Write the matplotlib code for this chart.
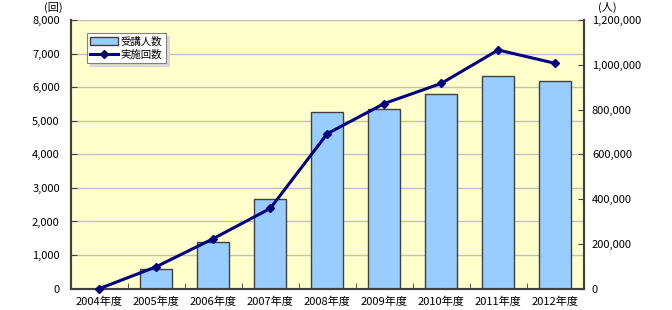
import matplotlib
matplotlib.use("Agg")
import matplotlib.pyplot as plt
from matplotlib.ticker import FuncFormatter, MultipleLocator
import numpy as np

plt.rcParams['font.family'] = ['Noto Sans CJK JP', 'DejaVu Sans']

# data
years = ['2004年度', '2005年度', '2006年度', '2007年度', '2008年度',
         '2009年度', '2010年度', '2011年度', '2012年度']
participants = [0, 89000, 209000, 399000, 791000, 801000, 870000, 951000, 930000]  # 受講人数 (right axis)
sessions = [0, 653, 1490, 2390, 4617, 5515, 6114, 7111, 6713]  # 実施回数 (left axis)

bar_color = '#99CCFF'
line_color = '#000080'
bg_color = '#FFFFCC'
grid_color = '#C0C0C0'
axis_color = '#404040'

fig = plt.figure(figsize=(6.72, 3.10), dpi=100)
ax = fig.add_axes([0.1055, 0.069, 0.763, 0.866])
ax2 = ax.twinx()

x = np.arange(len(years))

# bars on the secondary axis, drawn below the line
ax2.bar(x, participants, width=0.56, color=bar_color, edgecolor='#404040',
        linewidth=1.0, zorder=2, label='受講人数')
ax2.set_ylim(0, 1200000)
ax2.yaxis.set_major_locator(MultipleLocator(200000))
ax2.yaxis.set_major_formatter(FuncFormatter(lambda v, p: f'{int(v):,}'))

ax.set_zorder(ax2.get_zorder() + 1)
ax.patch.set_visible(False)
ax2.patch.set_visible(True)
ax2.patch.set_facecolor(bg_color)

ln, = ax.plot(x, sessions, color=line_color, linewidth=2.2, marker='D',
              markersize=4.5, zorder=3, label='実施回数', clip_on=False)
ax.set_ylim(0, 8000)
ax.set_xlim(-0.5, len(years) - 0.5)
ax.yaxis.set_major_locator(MultipleLocator(1000))
ax.yaxis.set_major_formatter(FuncFormatter(lambda v, p: f'{int(v):,}'))

# gridlines drawn on the bar axis so they sit behind the bars
for v in np.arange(1000, 8001, 1000):
    ax2.axhline(v * 150, color=grid_color, linewidth=1.0, zorder=1)

ax.set_xticks(x)
ax.set_xticklabels(years)
ax.set_xticks(np.arange(-0.5, len(years) - 0.4, 1), minor=True)
ax.tick_params(axis='x', which='major', length=0, labelsize=8, pad=6)
ax.tick_params(axis='x', which='minor', direction='in', length=4, color=axis_color)
ax.tick_params(axis='y', direction='in', length=4, labelsize=8, color=axis_color, pad=8)
ax2.tick_params(axis='y', direction='in', length=4, labelsize=8, color=axis_color, pad=6)

for a in (ax, ax2):
    for side in ('left', 'right', 'bottom'):
        a.spines[side].set_color(axis_color)
        a.spines[side].set_linewidth(1.5)
    a.spines['top'].set_visible(False)

fig.text(0.079, 0.975, '(回)', fontsize=8, ha='center', va='center')
fig.text(0.903, 0.975, '(人)', fontsize=8, ha='center', va='center')

bars_handle = ax2.containers[0]
leg = ax.legend([bars_handle, ln], ['受講人数', '実施回数'], loc='upper left',
                bbox_to_anchor=(0.027, 0.96), fontsize=7.5, frameon=True,
                fancybox=False, shadow={'color': '#D8D8D8', 'alpha': 1.0},
                handlelength=2.6, borderpad=0.35, labelspacing=0.25,
                handletextpad=0.3, borderaxespad=0.2)
leg.get_frame().set_edgecolor('#808080')
leg.get_frame().set_linewidth(0.8)

fig.savefig('out.png', dpi=100)
